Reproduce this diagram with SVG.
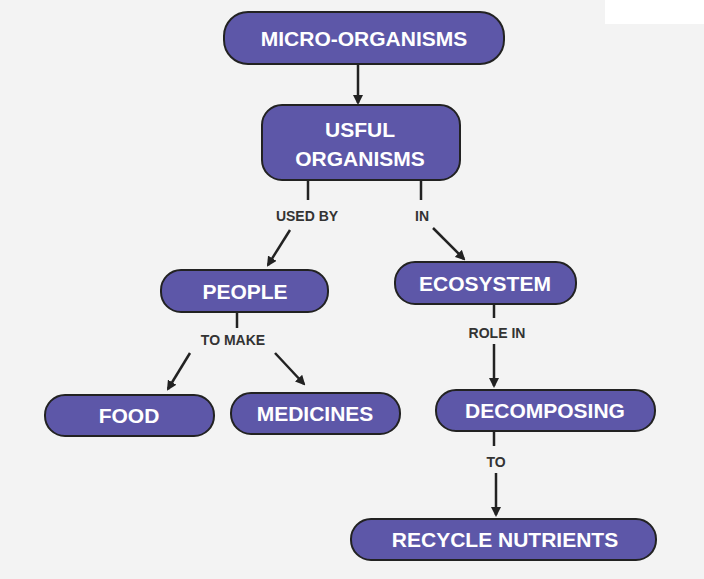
<svg xmlns="http://www.w3.org/2000/svg" width="704" height="579" viewBox="0 0 704 579">
<defs>
<marker id="ah" markerWidth="10" markerHeight="10" refX="8" refY="5" orient="auto" markerUnits="userSpaceOnUse" viewBox="0 0 10 10"><path d="M0,0 L10,5 L0,10 z" fill="#222"/></marker>
<style>
.n{fill:#5d57a8;stroke:#222;stroke-width:2}
.t{font-family:"Liberation Sans",Arial,sans-serif;font-weight:bold;font-size:21px;fill:#fff;text-anchor:middle}
.l{font-family:"Liberation Sans",Arial,sans-serif;font-weight:bold;font-size:14px;fill:#333;text-anchor:middle}
.c{stroke:#222;stroke-width:2.5;fill:none}
.a{stroke:#222;stroke-width:2.5;fill:none;marker-end:url(#ah)}
</style>
</defs>
<rect width="704" height="579" fill="#f3f3f3"/>
<rect x="605" y="0" width="99" height="24" fill="#fff"/>
<g id="connectors">
<line class="a" x1="358" y1="64" x2="358" y2="103"/>
<line class="c" x1="308" y1="180" x2="308" y2="200"/>
<line class="a" x1="290" y1="230" x2="268" y2="265"/>
<line class="c" x1="421" y1="180" x2="421" y2="200"/>
<line class="a" x1="433" y1="228" x2="464" y2="259"/>
<line class="c" x1="237" y1="312" x2="237" y2="328"/>
<line class="a" x1="190" y1="353" x2="168" y2="389"/>
<line class="a" x1="275" y1="353" x2="304" y2="384"/>
<line class="c" x1="494" y1="304" x2="494" y2="318"/>
<line class="a" x1="494" y1="344" x2="494" y2="386"/>
<line class="c" x1="494" y1="431" x2="494" y2="446"/>
<line class="a" x1="496" y1="473" x2="496" y2="515"/>
<text class="l" x="307" y="221">USED BY</text>
<text class="l" x="422" y="221">IN</text>
<text class="l" x="233" y="345">TO MAKE</text>
<text class="l" x="497" y="338">ROLE IN</text>
<text class="l" x="496" y="467">TO</text>
</g>
<g id="micro"><rect class="n" x="224" y="12" width="280" height="52" rx="24"/><text class="t" x="364" y="46">MICRO-ORGANISMS</text></g>
<g id="usful"><rect class="n" x="262" y="105" width="198" height="75" rx="20"/><text class="t" x="360" y="137">USFUL</text><text class="t" x="360" y="166">ORGANISMS</text></g>
<g id="people"><rect class="n" x="161" y="270" width="167" height="42" rx="20"/><text class="t" x="245" y="299">PEOPLE</text></g>
<g id="ecosystem"><rect class="n" x="395" y="262" width="181" height="42" rx="20"/><text class="t" x="485" y="291">ECOSYSTEM</text></g>
<g id="food"><rect class="n" x="45" y="395" width="169" height="41" rx="20"/><text class="t" x="129" y="423">FOOD</text></g>
<g id="medicines"><rect class="n" x="231" y="393" width="169" height="41" rx="20"/><text class="t" x="315" y="421">MEDICINES</text></g>
<g id="decomposing"><rect class="n" x="436" y="390" width="219" height="41" rx="20"/><text class="t" x="545" y="418">DECOMPOSING</text></g>
<g id="recycle"><rect class="n" x="351" y="519" width="305" height="41" rx="20"/><text class="t" x="505" y="547">RECYCLE NUTRIENTS</text></g>
</svg>
